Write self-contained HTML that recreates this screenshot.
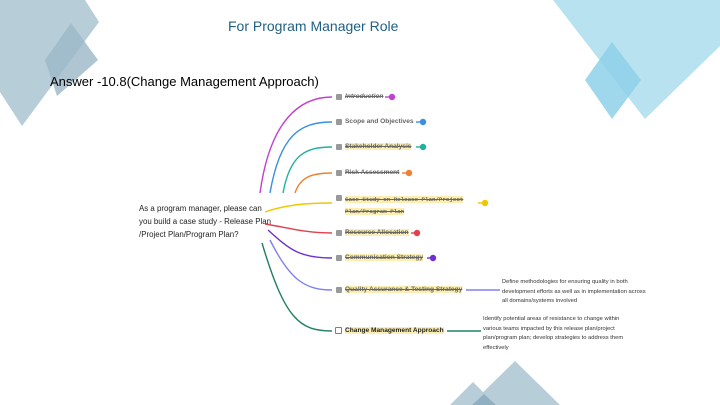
<!DOCTYPE html>
<html><head><meta charset="utf-8"><style>
body{margin:0;width:720px;height:405px;background:#fff;overflow:hidden;position:relative;font-family:"Liberation Sans",sans-serif}
.t{position:absolute;white-space:nowrap}
.it{position:absolute;font-size:6.6px;font-weight:bold;color:#666;text-decoration:line-through;white-space:nowrap}
.hl{background:#fbeeb0}
.cb{position:absolute;width:6px;height:6px;background:#999;border-radius:1px}
.note{position:absolute;font-size:5.8px;color:#333;line-height:9.5px}
</style></head><body>
<svg width="720" height="405" style="position:absolute;left:0;top:0">
<polygon points="0,0 85,0 99,22 22,126 0,92" fill="#b7cdd8"/>
<polygon points="71,23 98,60 57,96 45,60" fill="#9bb8c7" opacity="0.8"/>
<polygon points="553,0 720,0 720,46 645,119" fill="#b8e2f0"/>
<polygon points="612,42 641,80 612,119 585,80" fill="#8ed0ea" opacity="0.85"/>
<polygon points="515,361 560,405 470,405" fill="#b7cdd8"/>
<polygon points="473,382 496,405 450,405" fill="#b7cdd8"/>
<polygon points="484,394 496,405 472,405" fill="#8fb0c0"/>
<g fill="none" stroke-width="1.4">
<path d="M260,193 C270,120 300,97 332,97" stroke="#c040d0"/>
<path d="M270,193 C280,135 300,122 332,122" stroke="#3b8fe0"/>
<path d="M283,193 C290,155 305,147 332,147" stroke="#20b0a0"/>
<path d="M295,193 C300,178 310,173 332,173" stroke="#f08030"/>
<path d="M265,212 C285,205 305,203 332,203" stroke="#f0c800"/>
<path d="M265,224 C290,228 305,233 332,233" stroke="#e04050"/>
<path d="M268,230 C290,250 300,258 332,258" stroke="#7030d0"/>
<path d="M270,240 C290,280 305,290 332,290" stroke="#8080f0"/>
<path d="M262,243 C285,320 300,331 332,331" stroke="#208060"/>
<path d="M385,97 h6" stroke="#c040d0"/><circle cx="392" cy="97" r="3.2" fill="#c040d0" stroke="none"/>
<path d="M416,122 h6" stroke="#3b8fe0"/><circle cx="423" cy="122" r="3.2" fill="#3b8fe0" stroke="none"/>
<path d="M416,147 h6" stroke="#20b0a0"/><circle cx="423" cy="147" r="3.2" fill="#20b0a0" stroke="none"/>
<path d="M402,173 h6" stroke="#f08030"/><circle cx="409" cy="173" r="3.2" fill="#f08030" stroke="none"/>
<path d="M478,203 h6" stroke="#f0c800"/><circle cx="485" cy="203" r="3.2" fill="#f0c800" stroke="none"/>
<path d="M411,233 h6" stroke="#e04050"/><circle cx="417" cy="233" r="3.2" fill="#e04050" stroke="none"/>
<path d="M427,258 h6" stroke="#7030d0"/><circle cx="433" cy="258" r="3.2" fill="#7030d0" stroke="none"/>
<path d="M466,290 h34" stroke="#8080f0"/>
<path d="M447,331 h34" stroke="#208060"/>
</g>
</svg>
<div class="t" style="left:228px;top:18px;font-size:14px;color:#1f5f85">For Program Manager Role</div>
<div class="t" style="left:50px;top:74px;font-size:13px;color:#000">Answer -10.8(Change Management Approach)</div>
<div class="t" style="left:139px;top:202px;font-size:7.9px;color:#222;line-height:13px">As a program manager, please can<br>you build a case study - Release Plan<br>/Project Plan/Program Plan?</div>
<div class="cb" style="left:336px;top:94px"></div><div class="it" style="left:345px;top:93px;font-style:italic">Introduction</div>
<div class="cb" style="left:336px;top:119px"></div><div class="it" style="left:345px;top:118px;text-decoration:none">Scope and Objectives</div>
<div class="cb" style="left:336px;top:144px"></div><div class="it hl" style="left:345px;top:143px">Stakeholder Analysis</div>
<div class="cb" style="left:336px;top:170px"></div><div class="it" style="left:345px;top:169px">Risk Assessment</div>
<div class="cb" style="left:336px;top:195px"></div><div class="it" style="left:345px;top:194px;font-family:'Liberation Mono',monospace;font-size:5.8px;line-height:12px;white-space:normal;width:135px"><span class="hl">Case Study on Release Plan/Project</span><br><span class="hl">Plan/Program Plan</span></div>
<div class="cb" style="left:336px;top:230px"></div><div class="it hl" style="left:345px;top:229px">Resource Allocation</div>
<div class="cb" style="left:336px;top:255px"></div><div class="it hl" style="left:345px;top:254px">Communication Strategy</div>
<div class="cb" style="left:336px;top:287px"></div><div class="it hl" style="left:345px;top:286px">Quality Assurance &amp; Testing Strategy</div>
<div style="position:absolute;left:335px;top:327px;width:5px;height:5px;border:1px solid #3b8fe0;border-radius:1px"></div>
<div class="it hl" style="left:345px;top:327px;color:#222;text-decoration:none">Change Management Approach</div>
<div class="note" style="left:502px;top:278px">Define methodologies for ensuring quality in both<br>development efforts as well as in implementation across<br>all domains/systems involved</div>
<div class="note" style="left:483px;top:315px">Identify potential areas of resistance to change within<br>various teams impacted by this release plan/project<br>plan/program plan; develop strategies to address them<br>effectively</div>
</body></html>
